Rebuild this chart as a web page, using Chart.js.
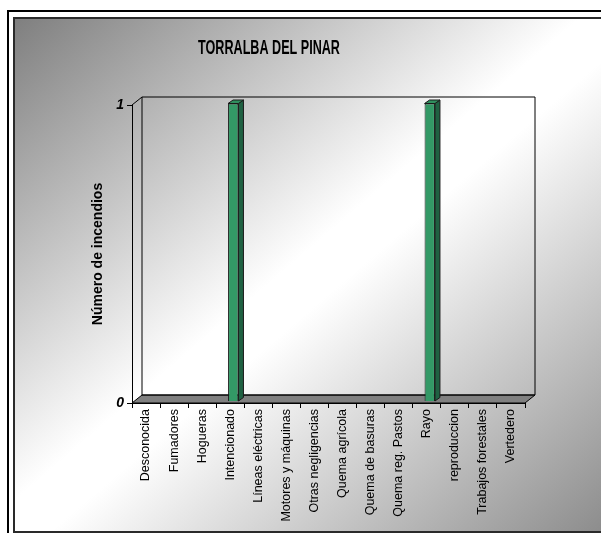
<!DOCTYPE html>
<html>
<head>
<meta charset="utf-8">
<script src="https://cdn.jsdelivr.net/npm/chart.js@4/dist/chart.umd.min.js"></script>
<style>
  html, body { margin: 0; padding: 0; background: #fff; overflow: hidden; }
  #frame {
    position: absolute; left: 7px; top: 10px; width: 620px; height: 540px;
    border-left: 2px solid #000; border-top: 2px solid #000;
  }
  #panel {
    position: absolute; left: 13px; top: 17px; width: 600px; height: 512px;
    border: 2px solid #2a2a2a;
    background: linear-gradient(to bottom right, #7f7f7f 0%, #ffffff 47%, #ffffff 53%, #8a8a8a 100%);
  }
  #wrap { position: absolute; left: 0; top: 0; width: 601px; height: 533px; }
</style>
</head>
<body>
<div id="frame"></div>
<div id="panel"></div>
<div id="wrap"><canvas id="chart" width="601" height="533"></canvas></div>
<script>
const chartTitle = "TORRALBA DEL PINAR";
const yTitle = "Número de incendios";
const categories = [
    "Desconocida", "Fumadores", "Hogueras", "Intencionado", "Líneas eléctricas",
    "Motores y máquinas", "Otras negligencias", "Quema agrícola", "Quema de basuras",
    "Quema reg. Pastos", "Rayo", "reproduccion", "Trabajos forestales", "Vertedero"
];
const incendios = [0, 0, 0, 1, 0, 0, 0, 0, 0, 0, 1, 0, 0, 0];
const yTicks = [0, 1];

const fontFamily = '"Liberation Sans", Arial, sans-serif';

// depth of the fake 3d box and of the bars
const wallDX = 10, wallDY = -8;
const barDX = 5, barDY = -3.5;
const barShift = { x: 3, y: -1.5 };

// title drawn by hand so it can be squeezed like the original
const titlePlugin = {
    id: "squeezedTitle",
    afterDraw(chart) {
        const ctx = chart.ctx;
        ctx.save();
        ctx.font = "bold 21px " + fontFamily;
        ctx.fillStyle = "#000";
        ctx.textAlign = "center";
        ctx.textBaseline = "middle";
        ctx.translate(269, 48);
        ctx.scale(0.6, 1);
        ctx.fillText(chartTitle, 0, 0);
        ctx.restore();
    }
};

// floor and walls behind the bars
const boxPlugin = {
    id: "box3d",
    beforeDatasetsDraw(chart) {
        const ctx = chart.ctx;
        const { left, right, top, bottom } = chart.chartArea;
        ctx.save();
        ctx.strokeStyle = "#000";
        ctx.lineWidth = 1;

        // floor
        ctx.beginPath();
        ctx.moveTo(left, bottom);
        ctx.lineTo(left + wallDX, bottom + wallDY);
        ctx.lineTo(right + wallDX, bottom + wallDY);
        ctx.lineTo(right, bottom);
        ctx.closePath();
        ctx.fillStyle = "#808080";
        ctx.fill();
        ctx.stroke();

        // back wall
        ctx.beginPath();
        ctx.rect(left + wallDX, top + wallDY, right - left, bottom - top);
        ctx.stroke();

        // left wall top edge
        ctx.beginPath();
        ctx.moveTo(left, top);
        ctx.lineTo(left + wallDX, top + wallDY);
        ctx.stroke();
        ctx.restore();

        // bars sit in the middle of the depth
        ctx.save();
        ctx.translate(barShift.x, barShift.y);
    },
    afterDatasetsDraw(chart) {
        const ctx = chart.ctx;
        ctx.restore();

        ctx.save();
        ctx.translate(barShift.x, barShift.y);
        ctx.strokeStyle = "#1a1a1a";
        ctx.lineWidth = 1;
        chart.getDatasetMeta(0).data.forEach((bar, i) => {
            if (!incendios[i]) return;
            const { x, y, base, width } = bar.getProps(["x", "y", "base", "width"], true);
            const l = x - width / 2, r = x + width / 2;
            // side
            ctx.beginPath();
            ctx.moveTo(r, y);
            ctx.lineTo(r + barDX, y + barDY);
            ctx.lineTo(r + barDX, base + barDY);
            ctx.lineTo(r, base);
            ctx.closePath();
            ctx.fillStyle = "#1f6142";
            ctx.fill();
            ctx.stroke();
            // top
            ctx.beginPath();
            ctx.moveTo(l, y);
            ctx.lineTo(l + barDX, y + barDY);
            ctx.lineTo(r + barDX, y + barDY);
            ctx.lineTo(r, y);
            ctx.closePath();
            ctx.fillStyle = "#2f8f5e";
            ctx.fill();
            ctx.stroke();
        });
        ctx.restore();
    }
};

new Chart(document.getElementById("chart"), {
    type: "bar",
    data: {
        labels: categories,
        datasets: [{
            label: yTitle,
            data: incendios,
            backgroundColor: "#339966",
            borderColor: "#1a1a1a",
            borderWidth: ctx => (ctx.raw > 0 ? 1 : 0),
            borderSkipped: "bottom",
            categoryPercentage: 1,
            barPercentage: 0.37
        }]
    },
    options: {
        responsive: false,
        animation: false,
        layout: { padding: { left: 90, right: 76, top: 105, bottom: 10 } },
        plugins: {
            legend: { display: false },
            title: { display: false },
            tooltip: { enabled: false }
        },
        scales: {
            x: {
                afterFit: scale => { scale.height = 120; },
                grid: { offset: true, drawOnChartArea: false, tickLength: 5, color: "#000" },
                border: { color: "#000", width: 1 },
                ticks: {
                    autoSkip: false,
                    maxRotation: 90,
                    minRotation: 90,
                    padding: 1,
                    color: "#000",
                    font: { family: fontFamily, size: 12.5 }
                }
            },
            y: {
                min: 0,
                max: 1,
                afterFit: scale => { scale.width = 42; },
                afterBuildTicks: scale => { scale.ticks = yTicks.map(v => ({ value: v })); },
                grid: { drawOnChartArea: false, tickLength: 5, color: "#000" },
                border: { color: "#000", width: 1 },
                ticks: {
                    padding: 3,
                    color: "#000",
                    font: { family: fontFamily, size: 14, weight: "bold", style: "italic" }
                },
                title: {
                    display: true,
                    text: yTitle,
                    color: "#000",
                    padding: 0,
                    font: { family: fontFamily, size: 14, weight: "bold" }
                }
            }
        }
    },
    plugins: [boxPlugin, titlePlugin]
});
</script>
</body>
</html>
